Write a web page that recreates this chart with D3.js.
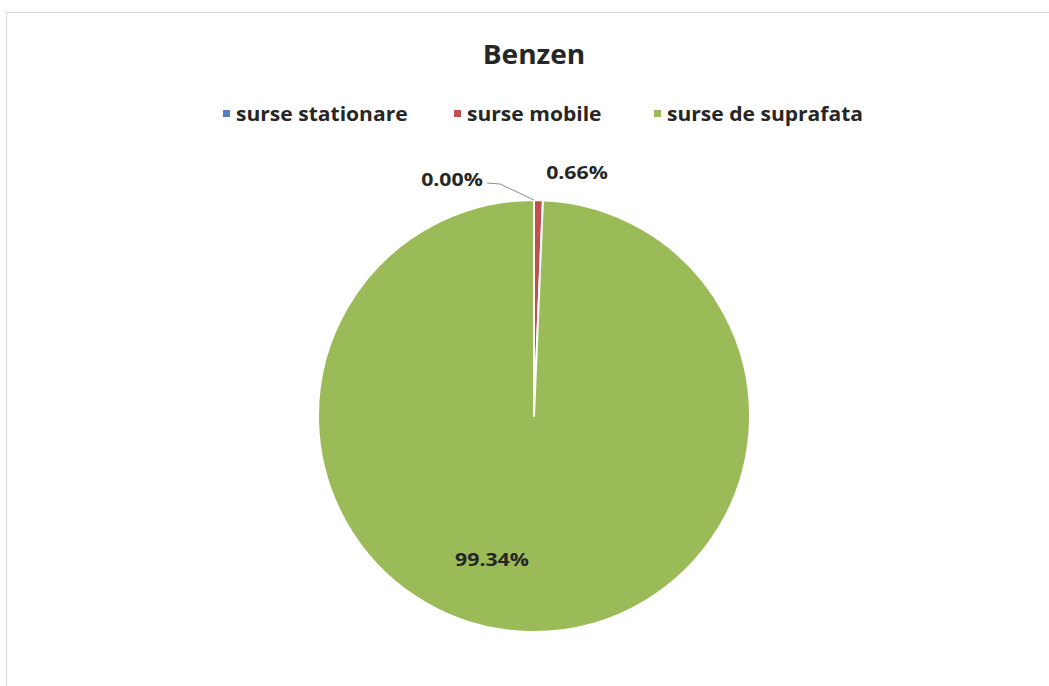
<!DOCTYPE html>
<html>
<head>
<meta charset="utf-8">
<script src="https://cdn.jsdelivr.net/npm/d3@7"></script>
<style>
  html, body { margin: 0; padding: 0; background: #fff; }
  svg { display: block; }
  text { font-family: "Open Sans", Lato, sans-serif; font-weight: bold; fill: #262626; }
</style>
</head>
<body>
<svg id="chart" width="1049" height="686"></svg>
<script>
// Benzen emission shares by source type
const categories = ["surse stationare", "surse mobile", "surse de suprafata"];
const shares = [0.00, 0.66, 99.34];
const labels = ["0.00%", "0.66%", "99.34%"];
const colors = ["#4F81BD", "#C0504D", "#9BBB59"];
const title = "Benzen";

const svg = d3.select("#chart");

// chart area frame
svg.append("rect")
  .attr("x", 6.5).attr("y", 12.5)
  .attr("width", 1060).attr("height", 700)
  .attr("fill", "#fff")
  .attr("stroke", "#d9d9d9").attr("stroke-width", 1);

svg.append("text")
  .attr("transform", "translate(534,64) scale(1.04,1)")
  .attr("text-anchor", "middle")
  .style("font-size", "27px")
  .text(title);

// legend
const legendX = [223, 454, 654];
const legend = svg.append("g");
categories.forEach((c, i) => {
  const g = legend.append("g").attr("transform", `translate(${legendX[i]},114)`);
  g.append("rect").attr("x", 0).attr("y", -4).attr("width", 7).attr("height", 7).attr("fill", colors[i]);
  g.append("text").attr("transform", "translate(13,6.5) scale(1.08,1)").style("font-size", "19.5px").text(c);
});

// pie
const cx = 534, cy = 416, r = 216;
const pie = d3.pie().sort(null).value(d => d)(shares);
const arc = d3.arc().innerRadius(0).outerRadius(r);
const g = svg.append("g").attr("transform", `translate(${cx},${cy})`);
g.selectAll("path").data(pie).join("path")
  .attr("d", arc)
  .attr("fill", (d, i) => colors[i])
  .attr("stroke", "#fff")
  .attr("stroke-width", 2)
  .attr("stroke-linejoin", "round");

// data labels
const labelPos = [[452, 186], [577, 179], [492, 566]];
// leader line for the zero slice
const a0 = pie[0].startAngle;
const edge = [cx + Math.sin(a0) * r, cy - Math.cos(a0) * r];
svg.append("polyline")
  .attr("points", [[487, 183], [500, 184], edge].map(p => p.join(",")).join(" "))
  .attr("fill", "none").attr("stroke", "#8c8c8c").attr("stroke-width", 1);

labels.forEach((t, i) => {
  svg.append("text")
    .attr("transform", `translate(${labelPos[i][0]},${labelPos[i][1]}) scale(1.15,1)`)
    .attr("text-anchor", "middle")
    .style("font-size", "18.5px")
    .text(t);
});
</script>
</body>
</html>
